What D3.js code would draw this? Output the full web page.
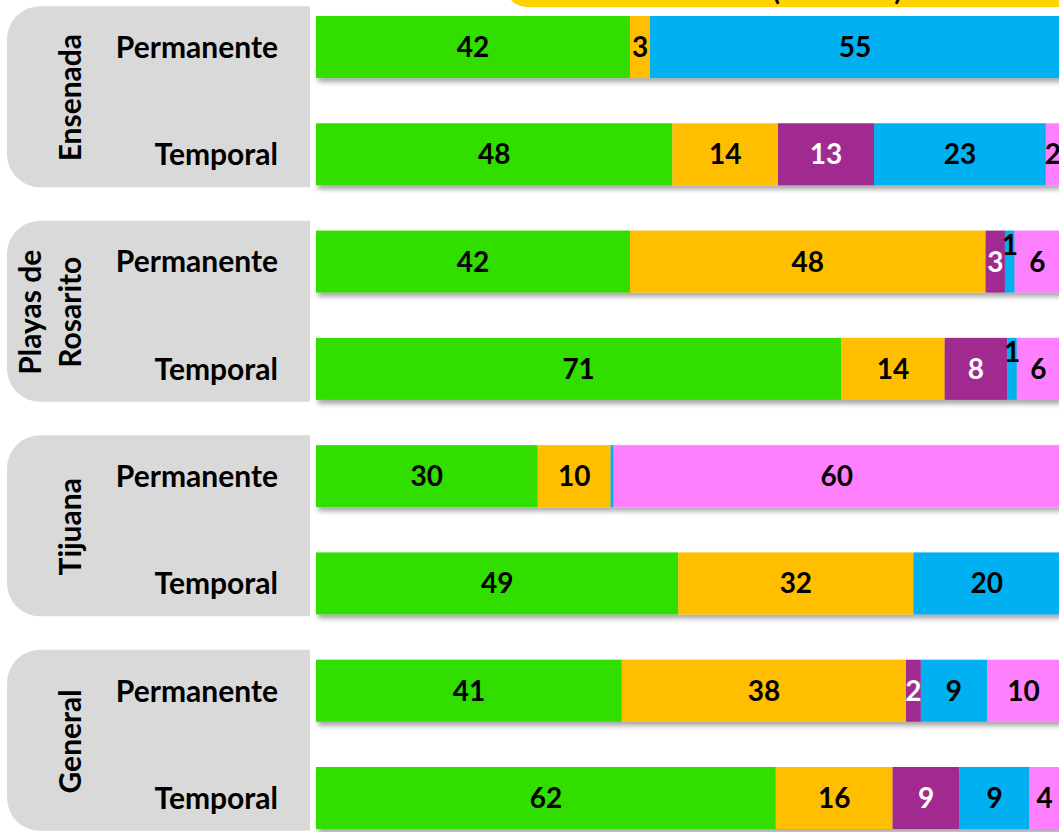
<!DOCTYPE html>
<html>
<head>
<meta charset="utf-8">
<script src="https://cdn.jsdelivr.net/npm/d3@7"></script>
<style>
  body { margin: 0; background: #fff; }
  svg { display: block; font-family: Lato, "Open Sans", sans-serif; font-weight: bold; }
</style>
</head>
<body>
<script>
// data (percentages)
var groups = ["Ensenada", "Playas de Rosarito", "Tijuana", "General"];
var groupLines = [["Ensenada"], ["Playas de", "Rosarito"], ["Tijuana"], ["General"]];
var types = ["Permanente", "Temporal"];
var series = ["s1", "s2", "s3", "s4", "s5"];
var colors = ["#33DD00", "#FFBF00", "#A02B8F", "#00B0F0", "#FF80FF"];
var labelColors = ["#000", "#000", "#fff", "#000", "#000"];

var ensenada = [[42.2, 2.7, 0, 55.1, 0], [47.9, 14.2, 12.9, 23.1, 1.9]];
var rosarito = [[42.2, 47.8, 2.6, 1.3, 6.1], [70.6, 13.9, 8.4, 1.3, 5.8]];
var tijuana = [[29.8, 9.8, 0, 0.4, 60.0], [48.7, 31.6, 0, 19.7, 0]];
var general = [[41.1, 38.2, 2.0, 8.9, 9.8], [61.8, 15.7, 9.0, 9.4, 4.1]];

var allValues = [ensenada, rosarito, tijuana, general];

var width = 1059, height = 832;

var svg = d3.select("body").append("svg")
    .attr("width", width)
    .attr("height", height);

var defs = svg.append("defs");
defs.append("filter")
    .attr("id", "shadow")
    .attr("x", "-5%").attr("y", "-20%")
    .attr("width", "110%").attr("height", "160%")
    .append("feDropShadow")
    .attr("dx", 2).attr("dy", 4)
    .attr("stdDeviation", 2.5)
    .attr("flood-color", "#000")
    .attr("flood-opacity", 0.35);

// rows: group x type
var rows = [];
groups.forEach(function (g, gi) {
    types.forEach(function (t, ti) {
        var vals = allValues[gi][ti];
        var x0 = 0;
        var segs = vals.map(function (v, si) {
            var s = { key: series[si], value: v, x0: x0, x1: x0 + v, si: si };
            x0 += v;
            return s;
        });
        rows.push({ id: g + "|" + t, group: g, gi: gi, type: t, segs: segs });
    });
});

var x = d3.scaleLinear().domain([0, 100]).range([316, 1060]);
var y = d3.scaleBand()
    .domain(rows.map(d => d.id))
    .range([16, 829])
    .paddingInner(0.422)
    .paddingOuter(0);

// title box (cut off at the top)
svg.append("rect")
    .attr("x", 505).attr("y", -40)
    .attr("width", 620).attr("height", 47)
    .attr("rx", 22)
    .attr("fill", "#FFD200");
svg.append("text").attr("x", 776).attr("y", 0).attr("font-size", 28).attr("text-anchor", "middle").text("(");
svg.append("text").attr("x", 898).attr("y", 0).attr("font-size", 28).attr("text-anchor", "middle").text(")");

// grey side panels
var panelX0 = 7, panelX1 = 310, r = 33;
var panel = svg.append("g").selectAll("g")
    .data(groups)
    .join("g");

function groupCenter(gi) {
    var top = y(groups[gi] + "|" + types[0]);
    var bottom = y(groups[gi] + "|" + types[1]) + y.bandwidth();
    return (top + bottom) / 2;
}

panel.append("path")
    .attr("fill", "#D9D9D9")
    .attr("d", function (d, gi) {
        var c = groupCenter(gi) - 4;
        var t = c - 90.5, b = c + 90.5;
        return "M" + panelX1 + "," + t +
            "H" + (panelX0 + r) +
            "A" + r + "," + r + " 0 0 0 " + panelX0 + "," + (t + r) +
            "V" + (b - r) +
            "A" + r + "," + r + " 0 0 0 " + (panelX0 + r) + "," + b +
            "H" + panelX1 + "Z";
    });

panel.each(function (d, gi) {
    var c = groupCenter(gi) - 3;
    var lines = groupLines[gi];
    var n = lines.length;
    var t = d3.select(this).append("text")
        .attr("transform", "translate(" + 81 + "," + c + ") rotate(-90)")
        .attr("text-anchor", "middle")
        .attr("font-size", 30)
        .attr("fill", "#000");
    lines.forEach(function (l, li) {
        t.append("tspan")
            .attr("x", 0)
            .attr("y", (li - (n - 1)) * 40)
            .text(l);
    });
});

// row labels
svg.append("g").selectAll("text")
    .data(rows)
    .join("text")
    .attr("x", 278)
    .attr("y", d => y(d.id) + y.bandwidth() / 2)
    .attr("dy", "0.36em")
    .attr("text-anchor", "end")
    .attr("font-size", 30)
    .attr("fill", "#000")
    .text(d => d.type);

// stacked bars
var bar = svg.append("g").selectAll("g")
    .data(rows)
    .join("g")
    .attr("transform", d => "translate(0," + y(d.id) + ")");

bar.append("g")
    .attr("filter", "url(#shadow)")
    .selectAll("rect")
    .data(d => d.segs.filter(s => s.value > 0))
    .join("rect")
    .attr("x", d => x(d.x0))
    .attr("width", d => x(d.x1) - x(d.x0))
    .attr("height", y.bandwidth())
    .attr("fill", d => colors[d.si]);

var fmt = d3.format(".0f");
bar.append("g")
    .selectAll("text")
    .data(d => d.segs.filter(s => s.value >= 0.5))
    .join("text")
    .attr("x", d => (x(d.x0) + x(d.x1)) / 2)
    .attr("y", d => y.bandwidth() / 2 + (d.value < 1.5 ? -17 : 0))
    .attr("dy", "0.36em")
    .attr("text-anchor", "middle")
    .attr("font-size", 28)
    .attr("fill", d => labelColors[d.si])
    .text(d => fmt(d.value));
</script>
</body>
</html>
